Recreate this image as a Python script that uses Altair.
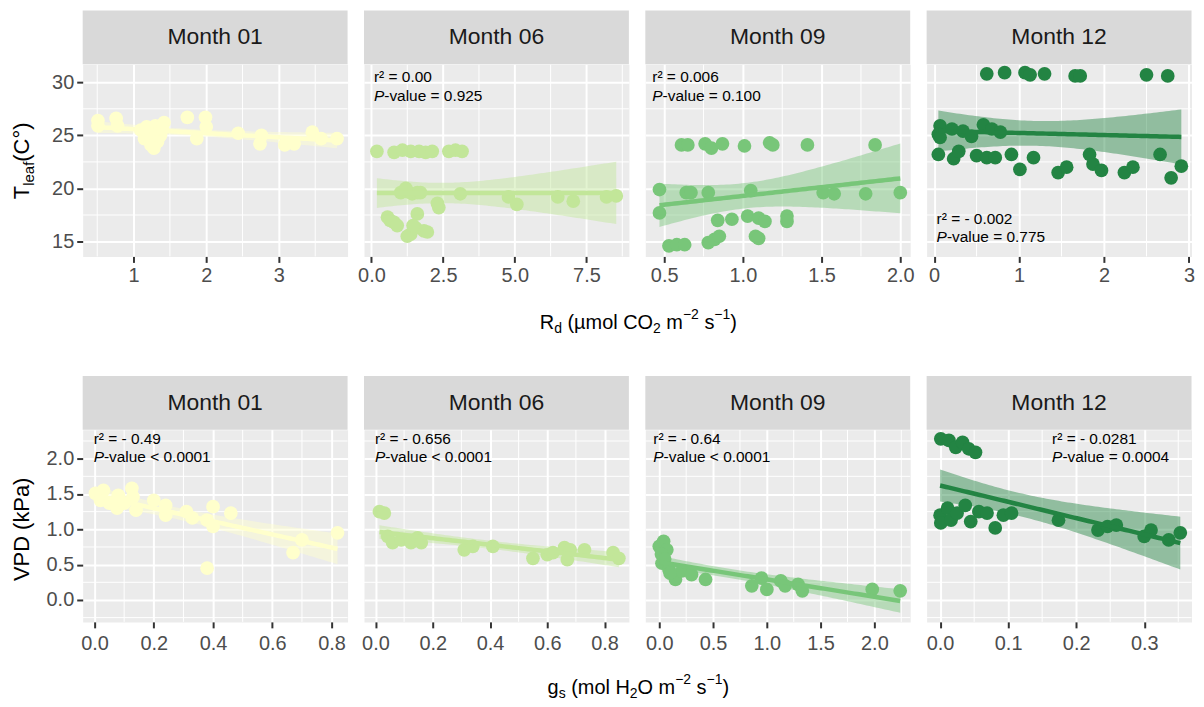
import numpy as np
import pandas as pd
import altair as alt

# ---------------- data ----------------
MONTHS = ["Month 01", "Month 06", "Month 09", "Month 12"]
COLORS = ["#ffffcc", "#c2e699", "#78c679", "#238443"]

# Top row: Rd (x) vs Tleaf (y)
rd_01 = [0.51, 0.51, 0.76, 0.78, 1.10, 1.15, 1.24, 1.30, 1.37, 1.42, 1.33, 1.74, 1.87,
         1.99, 2.00, 2.44, 2.76, 2.74, 3.08, 3.21, 3.46, 3.58, 3.80, 1.20, 1.28, 1.40, 1.18]
tleaf_01 = [26.4, 25.9, 26.6, 25.9, 25.5, 24.7, 24.1, 25.9, 25.0, 26.2, 24.4, 26.7, 24.7,
            26.7, 25.8, 25.2, 25.0, 24.2, 24.1, 24.2, 25.3, 24.7, 24.7, 25.2, 23.8, 25.6, 25.8]

rd_06 = [0.19, 0.79, 1.08, 1.37, 1.66, 1.89, 2.12, 2.70, 2.93, 3.16,
         1.02, 1.25, 1.42, 1.60, 1.71, 1.20, 3.10, 2.35, 2.30, 4.78, 5.07, 6.50, 7.04, 8.20, 8.54,
         0.56, 0.79, 1.60, 1.37, 1.83, 1.54, 0.65, 1.25, 1.45, 1.95, 0.90]
tleaf_06 = [23.5, 23.4, 23.6, 23.5, 23.5, 23.4, 23.5, 23.5, 23.6, 23.5,
            19.6, 19.7, 19.5, 19.6, 19.6, 20.0, 19.5, 18.2, 18.6, 19.2, 18.5, 19.2, 18.8, 19.2, 19.3,
            17.3, 16.8, 17.6, 15.7, 16.0, 16.3, 17.0, 15.5, 16.5, 15.9, 16.5]

rd_09 = [0.47, 0.47, 0.64, 0.67, 0.78, 1.05, 1.51, 1.58, 1.78, 2.00,
         0.61, 0.65, 0.76, 0.80, 0.87, 1.01, 1.17, 1.19, 1.41, 1.84,
         0.84, 0.93, 1.03, 1.10, 1.14, 1.28, 1.28,
         0.53, 0.58, 0.63, 0.78, 0.82, 0.85, 1.08, 1.10]
tleaf_09 = [19.9, 17.7, 19.6, 19.6, 19.6, 19.8, 19.6, 19.5, 19.5, 19.6,
            24.1, 24.1, 24.2, 23.8, 24.2, 24.0, 24.3, 24.1, 24.1, 24.1,
            17.0, 17.1, 17.4, 17.2, 16.9, 17.4, 16.9,
            14.6, 14.7, 14.7, 14.9, 15.2, 15.5, 15.5, 15.3]

rd_12 = [0.62, 0.83, 1.07, 1.13, 1.30, 1.66, 1.72, 2.50, 2.75,
         0.07, 0.05, 0.07, 0.21, 0.34, 0.44, 0.58, 0.68, 0.78,
         0.05, 0.23, 0.29, 0.50, 0.62, 0.72, 0.91, 1.01, 1.17, 1.46, 1.56, 1.83, 1.87, 1.97,
         2.24, 2.34, 2.66, 2.79, 2.91]
tleaf_12 = [30.8, 30.9, 30.9, 30.7, 30.8, 30.6, 30.6, 30.7, 30.6,
            25.9, 25.1, 24.8, 25.6, 25.4, 24.9, 26.0, 25.6, 25.3,
            23.2, 22.8, 23.5, 23.1, 22.9, 22.9, 23.2, 21.8, 22.9, 21.5, 22.0, 23.2, 22.3, 21.7,
            21.5, 22.0, 23.2, 21.0, 22.1]

# Bottom row: gs (x) vs VPD (y)
gs_01 = [0.003, 0.03, 0.02, 0.05, 0.08, 0.076, 0.126, 0.13, 0.14, 0.10, 0.20, 0.24, 0.24,
         0.31, 0.33, 0.38, 0.40, 0.40, 0.46, 0.38, 0.67, 0.70, 0.82]
vpd_01 = [1.51, 1.55, 1.41, 1.37, 1.48, 1.30, 1.58, 1.46, 1.27, 1.37, 1.41, 1.34, 1.20,
          1.25, 1.16, 1.13, 1.32, 1.04, 1.23, 0.45, 0.67, 0.85, 0.95]

gs_06 = [0.014, 0.031, 0.043, 0.06, 0.09, 0.124, 0.147, 0.16, 0.31, 0.34, 0.41, 0.55,
         0.60, 0.62, 0.66, 0.67, 0.68, 0.73, 0.83, 0.85]
vpd_06 = [1.25, 1.23, 0.90, 0.81, 0.85, 0.81, 0.88, 0.81, 0.71, 0.76, 0.76, 0.59,
          0.64, 0.67, 0.74, 0.57, 0.71, 0.71, 0.67, 0.59]

gs_09 = [0.0, 0.04, 0.07, 0.025, 0.09, 0.15, 0.21, 0.30, 0.43, 0.86, 0.95, 1.0, 1.13,
         1.17, 1.29, 1.33, 1.98, 2.24, 0.02, 0.05, 0.10]
vpd_09 = [0.76, 0.83, 0.71, 0.52, 0.43, 0.29, 0.41, 0.36, 0.29, 0.20, 0.31, 0.15, 0.27,
          0.20, 0.22, 0.13, 0.15, 0.13, 0.65, 0.58, 0.38]

gs_12 = [0.001, 0.013, 0.023, 0.033, 0.042, 0.052,
         0.0, 0.001, 0.011, 0.016, 0.025, 0.037, 0.045, 0.057, 0.069, 0.081, 0.093, 0.105,
         0.174, 0.232, 0.246, 0.259, 0.30, 0.31, 0.336, 0.353]
vpd_12 = [2.28, 2.26, 2.16, 2.23, 2.14, 2.09,
          1.20, 1.09, 1.30, 1.13, 1.23, 1.34, 1.11, 1.25, 1.23, 1.02, 1.20, 1.23,
          1.13, 0.99, 1.04, 1.06, 0.90, 0.99, 0.85, 0.95]

# annotation texts
R2_TOP = ["", "r² = 0.00", "r² = 0.006", "r² = - 0.002"]
P_TOP = ["", "-value = 0.925", "-value = 0.100", "-value = 0.775"]
R2_BOT = ["r² = - 0.49", "r² = - 0.656", "r² = - 0.64", "r² = - 0.0281"]
P_BOT = ["-value < 0.0001", "-value < 0.0001", "-value < 0.0001", "-value = 0.0004"]

# tick labels
XT_TOP = [[1, 2, 3], [0, 2.5, 5, 7.5], [0.5, 1.0, 1.5, 2.0], [0, 1, 2, 3]]
XM_TOP = [[0.5, 1.5, 2.5, 3.5], [1.25, 3.75, 6.25, 8.75], [0.75, 1.25, 1.75], [0.5, 1.5, 2.5]]
XF_TOP = ["d", ".1f", ".1f", "d"]
XT_BOT = [[0, 0.2, 0.4, 0.6, 0.8], [0, 0.2, 0.4, 0.6, 0.8], [0, 0.5, 1.0, 1.5, 2.0], [0, 0.1, 0.2, 0.3]]
XM_BOT = [[0.1, 0.3, 0.5, 0.7], [0.1, 0.3, 0.5, 0.7], [0.25, 0.75, 1.25, 1.75, 2.25], [0.05, 0.15, 0.25, 0.35]]
YT_TOP = [15, 20, 25, 30]
YM_TOP = [17.5, 22.5, 27.5]
YT_BOT = [0.0, 0.5, 1.0, 1.5, 2.0]
YM_BOT = [-0.25, 0.25, 0.75, 1.25, 1.75, 2.25]

# ---------------- layout / style ----------------
W = 266
H = 193
FONT = "Liberation Sans"
XDOM_TOP = [[0.30, 3.945], [-0.26, 8.98], [0.38, 2.063], [-0.088, 3.03]]
XDOM_BOT = [[-0.040, 0.854], [-0.040, 0.885], [-0.13, 2.333], [-0.0198, 0.3695]]
YDOM_TOP = [13.6, 31.7]
YDOM_BOT = [-0.31, 2.41]

# Arial / Liberation Sans advance widths (per 1000 em)
ADV = {' ': 278, '(': 333, ')': 333, 'µ': 576, 'm': 833, 'o': 556, 'l': 222,
       'C': 722, 'O': 778, 'R': 722, 'd': 556, 's': 500, 'g': 556, 'H': 722, '2': 556,
       '1': 556, '−': 584, 'T': 611, 'e': 556, 'a': 556, 'f': 278, '°': 400, 'V': 667,
       'P': 667, 'D': 722, 'k': 500}


def tw(s, size):
    return sum(ADV.get(c, 556) for c in s) * size / 1000.0


def t975(df):
    z = 1.959964
    g1 = (z ** 3 + z) / 4
    g2 = (5 * z ** 5 + 16 * z ** 3 + 3 * z) / 96
    g3 = (3 * z ** 7 + 19 * z ** 5 + 17 * z ** 3 - 15 * z) / 384
    return z + g1 / df + g2 / df ** 2 + g3 / df ** 3


def fit_band(x, y, n=80):
    x = np.asarray(x, float)
    y = np.asarray(y, float)
    b1, b0 = np.polyfit(x, y, 1)
    xs = np.linspace(x.min(), x.max(), n)
    yhat = b0 + b1 * xs
    resid = y - (b0 + b1 * x)
    nn = len(x)
    s = np.sqrt(np.sum(resid ** 2) / (nn - 2))
    se = s * np.sqrt(1.0 / nn + (xs - x.mean()) ** 2 / np.sum((x - x.mean()) ** 2))
    t = t975(nn - 2)
    return pd.DataFrame({"x": xs, "fit": yhat, "lo": yhat - t * se, "hi": yhat + t * se})


def one(d):
    return pd.DataFrame({"t": [d]})


def text_layer(txt, x, y, size, **kw):
    return alt.Chart(one(txt)).mark_text(
        align="left", baseline="alphabetic", fontSize=size, font=FONT, color="black", **kw
    ).encode(x=alt.value(x), y=alt.value(y), text="t:N")


def panel(x, y, color, month, xdom, xticks, xminor, xfmt, ydom, yticks, yminor, yfmt,
          show_y, r2=None, ptxt=None, ann_xy=None, extra=None, xpad=3):
    pts = pd.DataFrame({"x": x, "y": y})
    band = fit_band(x, y)
    xs = alt.Scale(domain=xdom, nice=False, zero=False)
    ys = alt.Scale(domain=ydom, nice=False, zero=False)
    common = dict(title=None, grid=True, gridColor="white", gridWidth=2, domain=False,
                  tickColor="#333333", tickSize=6, tickWidth=2, labelColor="#4D4D4D",
                  labelFontSize=20, labelFont=FONT, labelFlush=False, labelOverlap=False)
    xaxis = alt.Axis(values=xticks, format=xfmt, labelPadding=xpad, **common)
    if show_y:
        yaxis = alt.Axis(values=yticks, format=yfmt, labelPadding=3, **common)
    else:
        yaxis = alt.Axis(values=yticks, labels=False, ticks=False, title=None, grid=True,
                         gridColor="white", gridWidth=2, domain=False)

    X = lambda f: alt.X(f, scale=xs, axis=xaxis)
    Y = lambda f: alt.Y(f, scale=ys, axis=yaxis)

    layers = []
    layers.append(alt.Chart(pd.DataFrame({"v": xminor})).mark_rule(color="white", strokeWidth=1)
                  .encode(x=X("v:Q")))
    layers.append(alt.Chart(pd.DataFrame({"v": yminor})).mark_rule(color="white", strokeWidth=1)
                  .encode(y=Y("v:Q")))
    layers.append(alt.Chart(band).mark_area(color=color, opacity=0.45)
                  .encode(x=X("x:Q"), y=Y("lo:Q"), y2="hi:Q"))
    layers.append(alt.Chart(pts).mark_circle(size=190, opacity=1, color=color)
                  .encode(x=X("x:Q"), y=Y("y:Q")))
    layers.append(alt.Chart(band).mark_line(color=color, strokeWidth=4.5)
                  .encode(x=X("x:Q"), y=Y("fit:Q")))
    # strip
    sdf = pd.DataFrame({"label": [month]})
    layers.append(alt.Chart(sdf).mark_rect(color="#D9D9D9")
                  .encode(x=alt.value(0), x2=alt.value(W), y=alt.value(-54), y2=alt.value(0)))
    layers.append(alt.Chart(sdf).mark_text(fontSize=23, font=FONT, color="#1A1A1A", baseline="middle")
                  .encode(x=alt.value(W / 2), y=alt.value(-27), text="label:N"))
    # annotations
    if r2:
        ax, ay = ann_xy
        size = 15.5
        layers.append(text_layer(r2, ax, ay, size))
        layers.append(text_layer("P", ax, ay + 18.5, size, fontStyle="italic"))
        layers.append(text_layer(ptxt, ax + tw("P", size), ay + 18.5, size))
    if extra:
        layers.extend(extra)
    return alt.layer(*layers).properties(width=W, height=H)


def hpieces(pieces, center_abs, panel_left, base_y):
    """Horizontal title made of text pieces: (text, size, dy); spaces only advance x."""
    total = sum(tw(t, s) for t, s, _ in pieces)
    x = center_abs - total / 2 - panel_left
    out = []
    for t, s, dy in pieces:
        lead = len(t) - len(t.lstrip(" "))
        core = t.strip(" ")
        if core:
            out.append(text_layer(core, x + tw(" " * lead, s), base_y + dy, s))
        x += tw(t, s)
    return out


def vpieces(pieces, center_y, base_x):
    """Rotated (reading upward) title made of pieces: (text, size, dx)."""
    total = sum(tw(t, s) for t, s, _ in pieces)
    y = center_y + total / 2
    out = []
    for t, s, dx in pieces:
        out.append(alt.Chart(one(t)).mark_text(
            align="left", baseline="alphabetic", fontSize=s, font=FONT, color="black", angle=270
        ).encode(x=alt.value(base_x + dx), y=alt.value(y), text="t:N"))
        y -= tw(t, s)
    return out


SP = 16.5
LEFTS = [82 + i * (W + SP) for i in range(4)]

xt_top = hpieces([("R", 20, 0), ("d", 14, 4), (" (µmol CO", 20, 0), ("2", 14, 4),
                  (" m", 20, 0), ("−2", 14, -10), (" s", 20, 0), ("−1", 14, -10), (")", 20, 0)],
                 640, LEFTS[1], 266)
xt_bot = hpieces([("g", 20, 0), ("s", 14, 4), (" (mol H", 20, 0), ("2", 14, 4),
                  ("O m", 20, 0), ("−2", 14, -10), (" s", 20, 0), ("−1", 14, -10), (")", 20, 0)],
                 640, LEFTS[1], 265)
yt_top = vpieces([("T", 22, 0), ("leaf", 15, 5), ("(C°)", 22, 0)], 97, -54)
yt_bot = vpieces([("VPD (kPa)", 22, 0)], 100, -54)

TOP_X = [rd_01, rd_06, rd_09, rd_12]
TOP_Y = [tleaf_01, tleaf_06, tleaf_09, tleaf_12]
BOT_X = [gs_01, gs_06, gs_09, gs_12]
BOT_Y = [vpd_01, vpd_06, vpd_09, vpd_12]
ANN_TOP = [None, (10, 18), (7, 18), (10, 160)]
ANN_BOT = [(11, 14), (11, 14), (8, 14), (126, 14)]

top_panels = []
bot_panels = []
for i in range(4):
    extra_t = []
    extra_b = []
    if i == 0:
        extra_t = yt_top
        extra_b = yt_bot
    if i == 1:
        extra_t = extra_t + xt_top
        extra_b = extra_b + xt_bot
    top_panels.append(panel(TOP_X[i], TOP_Y[i], COLORS[i], MONTHS[i], XDOM_TOP[i], XT_TOP[i],
                            XM_TOP[i], XF_TOP[i], YDOM_TOP, YT_TOP, YM_TOP, "d", i == 0,
                            R2_TOP[i], P_TOP[i], ANN_TOP[i], extra_t, xpad=3))
    bot_panels.append(panel(BOT_X[i], BOT_Y[i], COLORS[i], MONTHS[i], XDOM_BOT[i], XT_BOT[i],
                            XM_BOT[i], ".1f", YDOM_BOT, YT_BOT, YM_BOT, ".1f", i == 0,
                            R2_BOT[i], P_BOT[i], ANN_BOT[i], extra_b, xpad=6))

row1 = alt.hconcat(*top_panels, spacing=SP, bounds="flush")
row2 = alt.hconcat(*bot_panels, spacing=SP, bounds="flush")
chart = alt.vconcat(row1, row2, spacing=H + 174, bounds="flush").properties(
    padding={"left": 2, "top": 0, "right": 0, "bottom": 0}
).configure(font=FONT).configure_view(fill="#EBEBEB", stroke="transparent")

chart.save("out.html", embed_options={"renderer": "svg", "actions": False})
